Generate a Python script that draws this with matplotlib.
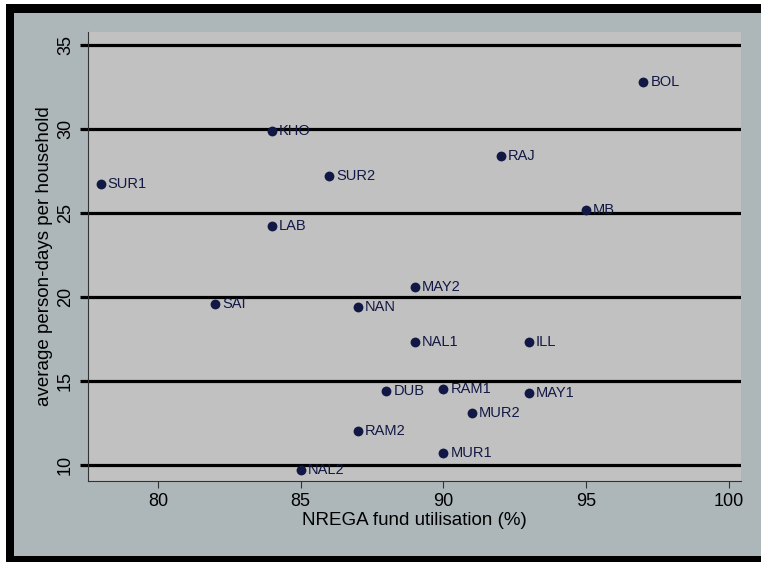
import numpy as np
import matplotlib
matplotlib.use("Agg")
import matplotlib.pyplot as plt
from matplotlib.patches import Rectangle

plt.rcParams['font.family'] = ['Liberation Sans', 'DejaVu Sans']

# data
names = ["SUR1", "KHO", "SUR2", "LAB", "BOL", "RAJ", "MB", "SAI", "NAN", "MAY2",
         "NAL1", "ILL", "DUB", "RAM1", "MAY1", "MUR2", "RAM2", "MUR1", "NAL2"]
fund_util = [78, 84, 86, 84, 97, 92, 95, 82, 87, 89,
             89, 93, 88, 90, 93, 91, 87, 90, 85]
person_days = [26.7, 29.9, 27.2, 24.2, 32.8, 28.4, 25.2, 19.6, 19.4, 20.6,
               17.3, 17.3, 14.4, 14.5, 14.3, 13.1, 12.0, 10.7, 9.7]
xticks = [80, 85, 90, 95, 100]
yticks = [10, 15, 20, 25, 30, 35]

W, H = 761, 562
outer_bg = "#adb7b9"
plot_bg = "#c1c1c1"
navy = "#121845"

fig = plt.figure(figsize=(W / 100, H / 100), dpi=100, facecolor="white")

# black frame + gray background (pixel coords, origin top-left)
def px_rect(x0, y0, x1, y1, color):
    fig.patches.append(Rectangle((x0 / W, 1 - y1 / H), (x1 - x0) / W, (y1 - y0) / H,
                                 transform=fig.transFigure, facecolor=color,
                                 edgecolor="none", zorder=-10))

px_rect(6, 4, W + 5, H + 5, "black")
px_rect(14, 13, W + 5, 556, outer_bg)

left, top, right, bottom = 88, 32, 741, 481
ax = fig.add_axes([left / W, 1 - bottom / H, (right - left) / W, (bottom - top) / H])
ax.set_facecolor(plot_bg)

ax.scatter(fund_util, person_days, s=50, color=navy, zorder=3, linewidths=0)
for n, x, y in zip(names, fund_util, person_days):
    ax.annotate(n, (x, y), xytext=(5, 0), textcoords="offset points",
                ha="left", va="center", fontsize=10.5, color=navy, zorder=4)

ax.set_xlim(77.55, 100.42)
ax.set_ylim(9.05, 35.77)
ax.set_xticks(xticks)
ax.set_yticks(yticks)
for y in yticks:
    ax.axhline(y, color="black", lw=2.3, zorder=2)

ax.tick_params(axis="x", length=5, width=0.8, color="#333333", pad=4,
               labelsize=13, labelcolor="black")
ax.tick_params(axis="y", length=6, width=2.3, color="black", pad=4,
               labelsize=13, labelcolor="black")
for lab in ax.get_yticklabels():
    lab.set_rotation(90)
    lab.set_va("center")

for s in ["top", "right"]:
    ax.spines[s].set_visible(False)
for s in ["left", "bottom"]:
    ax.spines[s].set_color("#333333")
    ax.spines[s].set_linewidth(0.8)

ax.set_xlabel("NREGA fund utilisation (%)", fontsize=13.5, labelpad=1)
ax.set_ylabel("average person-days per household", fontsize=13.5, labelpad=3)

fig.savefig("out.png", dpi=100, facecolor="white")
